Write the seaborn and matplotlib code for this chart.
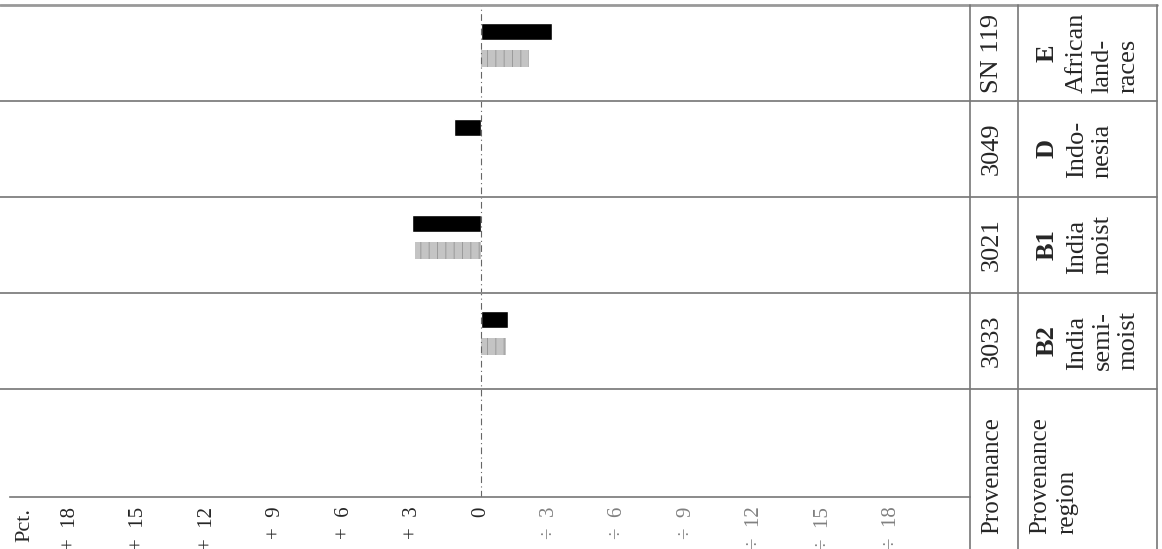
import matplotlib
matplotlib.use('Agg')
import matplotlib.pyplot as plt
import matplotlib.transforms as mtransforms
from matplotlib.lines import Line2D
import seaborn as sns
import pandas as pd

# rows of the table, top to bottom
provenances = ['SN 119', '3049', '3021', '3033']
region_codes = ['E', 'D', 'B1', 'B2']
region_names = ['African\nland-\nraces', 'Indo-\nnesia', 'India\nmoist', 'India\nsemi-\nmoist']
# pct. deviation, + to the left, ÷ to the right
dark_values = [-3.1, 1.2, 3.0, -1.2]
light_values = [-2.1, None, 2.9, -1.1]
series_names = ['dark', 'light']
tick_values = [18, 15, 12, 9, 6, 3, 0, -3, -6, -9, -12, -15, -18]
tick_labels = ['+  18', '+  15', '+  12', '+  9', '+  6', '+  3', '0',
               '÷  3', '÷  6', '÷  9', '÷  12', '÷  15', '÷  18']

rows = []
for p, d, l in zip(provenances, dark_values, light_values):
    rows.append({'Provenance': p, 'Series': 'dark', 'Pct': d})
    if l is not None:
        rows.append({'Provenance': p, 'Series': 'light', 'Pct': l})
df = pd.DataFrame(rows)

sns.set_theme(style='white')
SERIF = 'Liberation Serif'
plt.rcParams['font.family'] = 'serif'
plt.rcParams['font.serif'] = [SERIF, 'DejaVu Serif']
plt.rcParams['hatch.linewidth'] = 0.7

W, H = 1162, 549
fig = plt.figure(figsize=(W / 100, H / 100), dpi=100)
ax = fig.add_axes([10 / W, (H - 497) / H, 960 / W, 492 / H])

sns.barplot(data=df, y='Provenance', x='Pct', hue='Series', order=provenances,
            hue_order=series_names, palette=['#000000', '#c4c4c4'], saturation=1,
            width=0.56, gap=0.37, errorbar=None, legend=False, ax=ax)
# grey bars are screened in the print
for bar in ax.patches:
    if bar.get_facecolor()[0] > 0.5:
        bar.set_hatch('||')
        bar.set_edgecolor('#9a9a9a')
        bar.set_linewidth(0)

ax.set_xlim(20.63, -21.42)
ax.set_ylim(4.705, -0.42)
ax.set_xlabel('')
ax.set_ylabel('')
ax.set_yticks([])
ax.set_xticks(tick_values)
ax.set_xticklabels(tick_labels, rotation=90, fontsize=15, family=SERIF)
for t, v in zip(ax.get_xticklabels(), tick_values):
    if v < 0:
        t.set_color('#808080')
ax.tick_params(axis='x', direction='inout', length=8, width=0.8, color='#555555', pad=3)
for s in ['top', 'left', 'right']:
    ax.spines[s].set_visible(False)
ax.spines['bottom'].set_color('#777777')
ax.spines['bottom'].set_linewidth(1.2)

ax.axvline(0, color='#666666', lw=0.8, ls=(0, (6, 3, 1, 3)))

# row separators and top border
xmax = (1157 - 10) / 960
ax.axhline(-0.42, xmin=-0.01, xmax=xmax, color='#999999', lw=2, clip_on=False)
for i in range(len(provenances)):
    ax.axhline(i + 0.58, xmin=-0.01, xmax=xmax, color='#888888', lw=1.4, clip_on=False)

# table column lines
for xp in [970, 1018, 1157]:
    fig.add_artist(Line2D([xp / W, xp / W], [0, (H - 5) / H], color='#777777', lw=1.2))

trans = mtransforms.blended_transform_factory(fig.transFigure, ax.transData)
for i, (p, c, n) in enumerate(zip(provenances, region_codes, region_names)):
    fig.text(992 / W, i + 0.08, p, transform=trans, rotation=90, family=SERIF,
             ha='center', va='center', fontsize=19)
    fig.text(1047 / W, i + 0.08, c, transform=trans, rotation=90, family=SERIF,
             ha='center', va='center', fontsize=19, fontweight='bold')
    fig.text(1066 / W, i + 0.08, n, transform=trans, rotation=90, family=SERIF,
             ha='left', va='center', multialignment='left', fontsize=19,
             linespacing=1.22)

fig.text(992 / W, (H - 476) / H, 'Provenance', rotation=90, family=SERIF,
         ha='center', va='center', fontsize=18)
fig.text(1029 / W, (H - 476) / H, 'Provenance\nregion', rotation=90, family=SERIF,
         ha='left', va='center', multialignment='left', fontsize=18, linespacing=1.3)
fig.text(25 / W, (H - 525) / H, 'Pct.', rotation=90, family=SERIF,
         ha='center', va='center', fontsize=16)

plt.savefig('out.png', dpi=100)
